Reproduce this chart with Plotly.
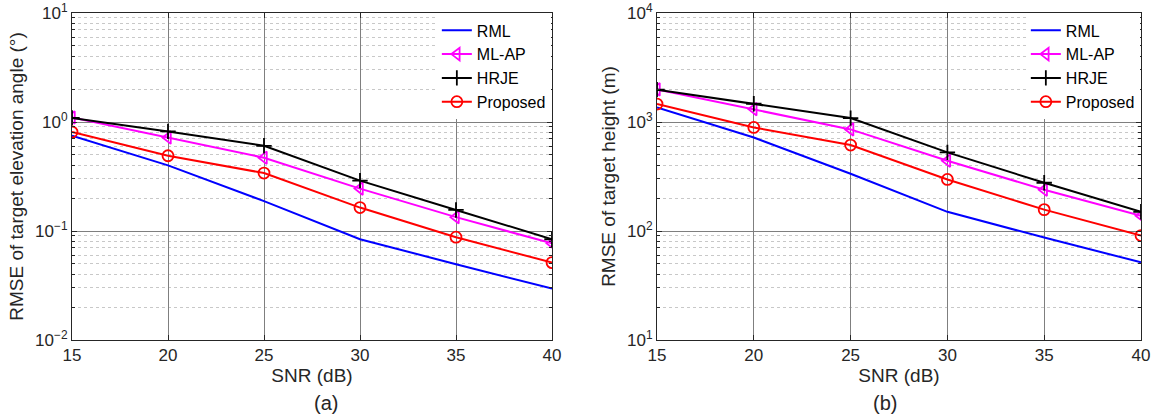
import numpy as np
import plotly.graph_objects as go

snr = [15, 20, 25, 30, 35, 40]

# (a) RMSE of target elevation angle (deg)
a_rml = [0.75, 0.40, 0.188, 0.084, 0.0496, 0.0296]
a_mlap = [1.10, 0.72, 0.47, 0.245, 0.134, 0.077]
a_hrje = [1.09, 0.82, 0.605, 0.29, 0.156, 0.084]
a_prop = [0.81, 0.49, 0.34, 0.164, 0.0877, 0.0513]

# (b) RMSE of target height (m)
b_rml = [1361, 721, 335, 150, 87, 51.6]
b_mlap = [1990, 1313, 855, 441, 239, 138]
b_hrje = [1980, 1470, 1086, 526, 277, 150]
b_prop = [1460, 891, 614, 297, 157, 90.8]

series_names = ["RML", "ML-AP", "HRJE", "Proposed"]
colors = ["#0000FF", "#FF00FF", "#000000", "#FF0000"]
symbols = [None, "triangle-left-open", "cross-thin-open", "circle-open"]

a_decades = [-2, -1, 0, 1]
b_decades = [1, 2, 3, 4]
a_ticktext = ["10<sup>−2</sup>", "10<sup>−1</sup>", "10<sup>0</sup>", "10<sup>1</sup>"]
b_ticktext = ["10<sup>1</sup>", "10<sup>2</sup>", "10<sup>3</sup>", "10<sup>4</sup>"]
x_ticks = [15, 20, 25, 30, 35, 40]

FONT = "Liberation Sans"
TXT = "#262626"

fig = go.Figure()

def add_panel(ys, xa, ya, legend):
    for name, y, c, s in zip(series_names, ys, colors, symbols):
        mode = "lines" if s is None else "lines+markers"
        marker = dict(symbol=s or "circle", size=11, color=c,
                      line=dict(color=c, width=1.8))
        fig.add_trace(go.Scatter(
            x=snr, y=y, name=name, mode=mode, xaxis=xa, yaxis=ya,
            line=dict(color=c, width=2), marker=marker,
            legend=legend, legendgroup=legend + name,
        ))

add_panel([a_rml, a_mlap, a_hrje, a_prop], "x", "y", "legend")
add_panel([b_rml, b_mlap, b_hrje, b_prop], "x2", "y2", "legend2")

def minor_vals(decs):
    vals = []
    for d in decs[:-1]:
        for k in range(2, 10):
            vals.append(k * 10 ** d)
    return vals

W, H = 1158, 418

def px(x):
    return x / W

def py(y):
    return 1 - y / H

yd = [py(340), py(13)]
xd1 = [px(72), px(552)]
xd2 = [px(657), px(1141)]

axis_common = dict(
    showline=True, linecolor=TXT, linewidth=1, mirror="ticks",
    ticks="inside", ticklen=5, tickcolor=TXT, automargin=False,
    showgrid=True, gridcolor="#7f7f7f", gridwidth=1,
    zeroline=False, tickfont=dict(family=FONT, size=17, color=TXT),
)

xaxis_common = dict(axis_common, range=[15, 40], tickvals=x_ticks,
                    title=dict(text="SNR (dB)", font=dict(family=FONT, size=19, color=TXT), standoff=0))

def yaxis(decs, texts, title, standoff):
    return dict(axis_common, type="log", range=[decs[0], decs[-1]],
                tickvals=[10 ** d for d in decs], ticktext=texts,
                ticklabeloverflow="allow",
                minor=dict(tickvals=minor_vals(decs), ticks="inside", ticklen=3,
                           tickcolor=TXT, showgrid=True,
                           gridcolor="#c8c8c8", griddash="dot", gridwidth=1),
                title=dict(text=title, font=dict(family=FONT, size=19, color=TXT), standoff=standoff))

leg_font = dict(family=FONT, size=16, color="#000000")

fig.update_layout(
    width=W, height=H, margin=dict(l=0, r=0, t=0, b=0, autoexpand=False),
    paper_bgcolor="white", plot_bgcolor="white",
    font=dict(family=FONT, color=TXT),
    xaxis=dict(xaxis_common, domain=xd1, anchor="y"),
    yaxis=dict(yaxis(a_decades, a_ticktext, "RMSE of target elevation angle (°)", 6), domain=yd, anchor="x"),
    xaxis2=dict(xaxis_common, domain=xd2, anchor="y2"),
    yaxis2=dict(yaxis(b_decades, b_ticktext, "RMSE of target height (m)", 6), domain=yd, anchor="x2"),
    legend=dict(x=xd1[1] - 0.001, y=yd[1] - 0.001, xanchor="right", yanchor="top",
                bgcolor="white", borderwidth=0, tracegroupgap=0, entrywidth=110,
                font=leg_font),
    legend2=dict(x=xd2[1] - 0.001, y=yd[1] - 0.001, xanchor="right", yanchor="top",
                 bgcolor="white", borderwidth=0, tracegroupgap=0, entrywidth=110,
                 font=leg_font),
    annotations=[
        dict(text="(a)", x=(xd1[0] + xd1[1]) / 2, y=py(403), xref="paper", yref="paper",
             yanchor="middle", showarrow=False, font=dict(family=FONT, size=20, color=TXT)),
        dict(text="(b)", x=(xd2[0] + xd2[1]) / 2, y=py(403), xref="paper", yref="paper",
             yanchor="middle", showarrow=False, font=dict(family=FONT, size=20, color=TXT)),
    ],
)

fig.write_html(
    "out.html",
    config={"displayModeBar": False},
    post_script="document.body.style.margin='0px';document.body.style.overflow='hidden';",
)
